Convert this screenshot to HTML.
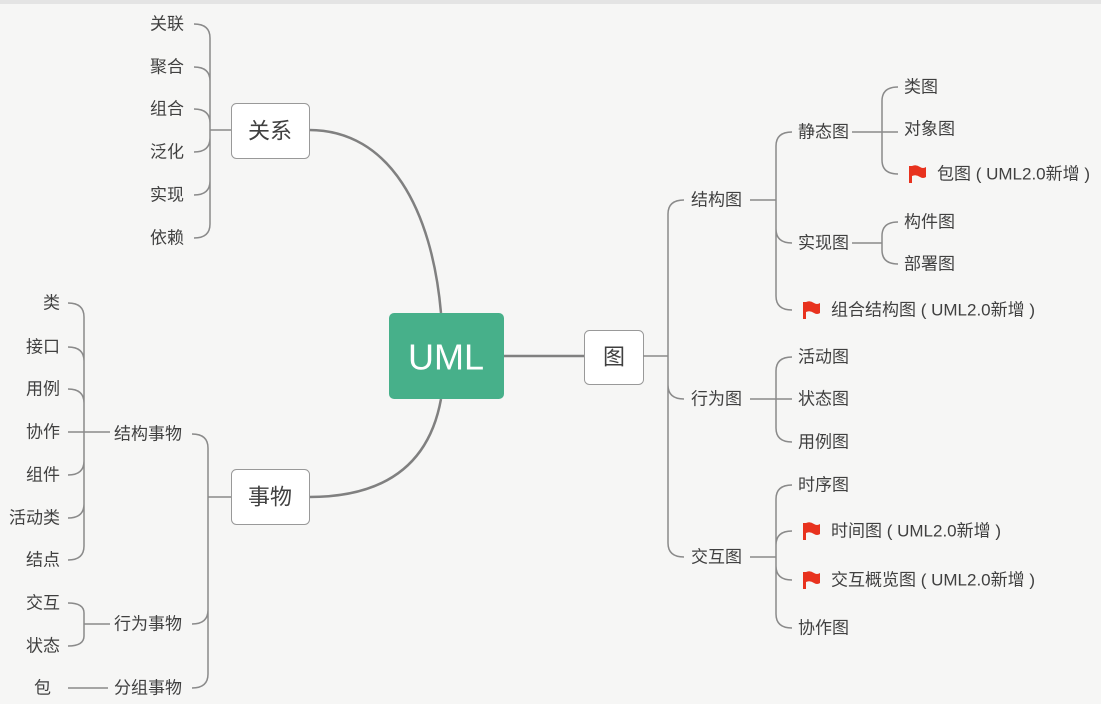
<!DOCTYPE html>
<html><head><meta charset="utf-8"><style>
html,body{margin:0;padding:0;background:#f6f6f5;}
svg{display:block}
text{font-family:"Liberation Sans","Noto Sans CJK SC",sans-serif;fill:#404040;font-size:17px;dominant-baseline:central}
.e{text-anchor:end}
path,line{fill:none;stroke:#8a8a8a;stroke-width:1.5}
.m{stroke:#808080;stroke-width:2.5}
path.f{fill:#e8321e;stroke:none}
</style></head><body>
<svg width="1101" height="704" viewBox="0 0 1101 704">
<rect x="0" y="0" width="1101" height="4" fill="#e4e4e4"/>
<path class="m" d="M441 313 C432 210 390 130 309 130"/>
<path class="m" d="M441 399 C430 460 390 497 309 497"/>
<line class="m" x1="504" y1="356" x2="584" y2="356"/>
<rect x="389" y="313" width="115" height="86" rx="5" fill="#47b08a"/>
<text x="446" y="357" style="fill:#fff;font-size:36px;text-anchor:middle">UML</text>
<rect x="231.5" y="103.5" width="78" height="55" rx="5" fill="#fff" stroke="#999"/>
<text x="270" y="131" style="font-size:22px;text-anchor:middle">关系</text>
<rect x="231.5" y="469.5" width="78" height="55" rx="5" fill="#fff" stroke="#999"/>
<text x="270" y="497" style="font-size:22px;text-anchor:middle">事物</text>
<rect x="584.5" y="330.5" width="59" height="54" rx="5" fill="#fff" stroke="#999"/>
<text x="614" y="357" style="font-size:22px;text-anchor:middle">图</text>

<path d="M231 130 H210 M210 130 V38 Q210 24 194 24 M210 130 V81 Q210 67 194 67 M210 130 V123 Q210 109 194 109 M210 130 V138 Q210 152 194 152 M210 130 V181 Q210 195 194 195 M210 130 V224 Q210 238 194 238"/>
<text class="e" x="184" y="24">关联</text>
<text class="e" x="184" y="67">聚合</text>
<text class="e" x="184" y="109">组合</text>
<text class="e" x="184" y="152">泛化</text>
<text class="e" x="184" y="195">实现</text>
<text class="e" x="184" y="238">依赖</text>

<path d="M231 497 H208 M208 497 V448 Q208 434 192 434 M208 497 V610 Q208 624 192 624 M208 497 V674 Q208 688 192 688"/>
<text x="114" y="434">结构事物</text>
<text x="114" y="624">行为事物</text>
<text x="114" y="688">分组事物</text>
<path d="M110 432 H84 M84 432 V317 Q84 303 68 303 M84 432 V361 Q84 347 68 347 M84 432 V403 Q84 389 68 389 M84 432 H68 M84 432 V461 Q84 475 68 475 M84 432 V504 Q84 518 68 518 M84 432 V546 Q84 560 68 560"/>
<text class="e" x="60" y="303">类</text>
<text class="e" x="60" y="347">接口</text>
<text class="e" x="60" y="389">用例</text>
<text class="e" x="60" y="432">协作</text>
<text class="e" x="60" y="475">组件</text>
<text class="e" x="60" y="518">活动类</text>
<text class="e" x="60" y="560">结点</text>
<path d="M110 624 H84 M84 624 V613 Q84 603 68 603 M84 624 V636 Q84 646 68 646"/>
<text class="e" x="60" y="603">交互</text>
<text class="e" x="60" y="646">状态</text>
<line x1="68" y1="688" x2="108" y2="688"/>
<text class="e" x="51" y="688">包</text>

<path d="M643 356 H668 M668 356 V214 Q668 200 684 200 M668 356 V385 Q668 399 684 399 M668 356 V543 Q668 557 684 557"/>
<text x="691" y="200">结构图</text>
<text x="691" y="399">行为图</text>
<text x="691" y="557">交互图</text>

<path d="M750 200 H776 M776 200 V146 Q776 132 792 132 M776 200 V229 Q776 243 792 243 M776 200 V296 Q776 310 792 310"/>
<text x="798" y="132">静态图</text>
<text x="798" y="243">实现图</text>
<text x="831" y="310">组合结构图 ( UML2.0新增 )</text>

<path d="M852 132 H898 M882 132 V101 Q882 87 898 87 M882 132 V160 Q882 174 898 174"/>
<text x="904" y="87">类图</text>
<text x="904" y="129">对象图</text>
<text x="937" y="174">包图 ( UML2.0新增 )</text>

<path d="M852 243 H882 M882 243 V236 Q882 222 898 222 M882 243 V250 Q882 264 898 264"/>
<text x="904" y="222">构件图</text>
<text x="904" y="264">部署图</text>

<path d="M750 399 H792 M776 399 V371 Q776 357 792 357 M776 399 V428 Q776 442 792 442"/>
<text x="798" y="357">活动图</text>
<text x="798" y="399">状态图</text>
<text x="798" y="442">用例图</text>

<path d="M750 557 H776 M776 557 V499 Q776 485 792 485 M776 557 V545 Q776 531 792 531 M776 557 V566 Q776 580 792 580 M776 557 V614 Q776 628 792 628"/>
<text x="798" y="485">时序图</text>
<text x="831" y="531">时间图 ( UML2.0新增 )</text>
<text x="831" y="580">交互概览图 ( UML2.0新增 )</text>
<text x="798" y="628">协作图</text>

<path class="f" d="M909 166 h3 v17 h-3z M912 166 q4 -2 8 1 q3 2 6 0 v10 q-3 2 -6 0 q-4 -3 -8 -1z"/>
<path class="f" d="M803 302 h3 v17 h-3z M806 302 q4 -2 8 1 q3 2 6 0 v10 q-3 2 -6 0 q-4 -3 -8 -1z"/>
<path class="f" d="M803 523 h3 v17 h-3z M806 523 q4 -2 8 1 q3 2 6 0 v10 q-3 2 -6 0 q-4 -3 -8 -1z"/>
<path class="f" d="M803 572 h3 v17 h-3z M806 572 q4 -2 8 1 q3 2 6 0 v10 q-3 2 -6 0 q-4 -3 -8 -1z"/>
</svg>
</body></html>
